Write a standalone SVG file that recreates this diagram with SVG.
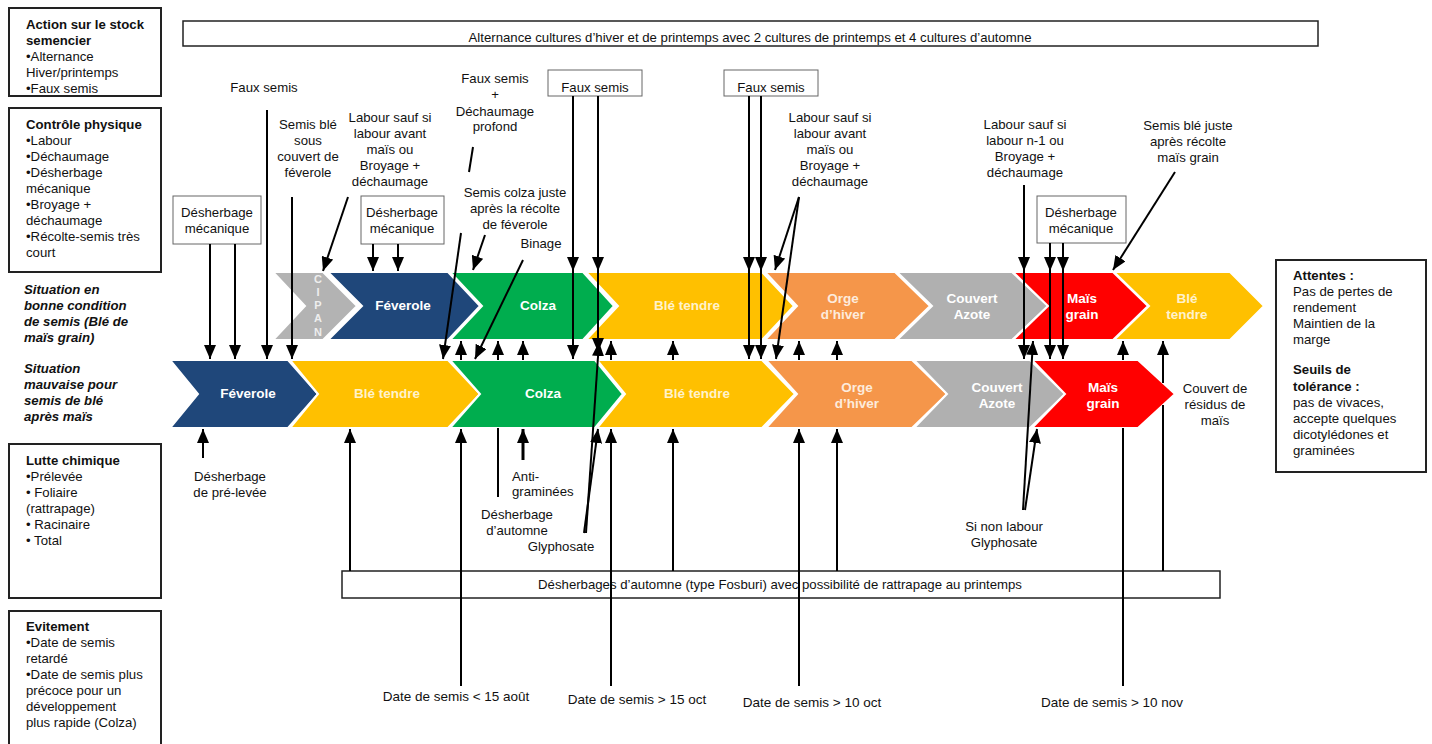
<svg xmlns="http://www.w3.org/2000/svg" width="1432" height="744" viewBox="0 0 1432 744">
<defs>
<marker id="ah" viewBox="0 0 14 12" refX="14" refY="6" markerWidth="14" markerHeight="12" markerUnits="userSpaceOnUse" orient="auto"><path d="M0,0 L14,6 L0,12 z" fill="#000"/></marker>
<style>
text{font-family:"Liberation Sans",Arial,sans-serif;font-size:13.2px;fill:#111}
.b{font-weight:bold}
.bi{font-weight:bold;font-style:italic}
.m{text-anchor:middle}
.sbox{fill:#fff;stroke:#222;stroke-width:2}
.lbox{fill:#fff;stroke:#666;stroke-width:1}
.chev{stroke:#fff;stroke-width:2}
.ct{font-weight:bold;font-size:13.5px;fill:#fff;text-anchor:middle}
.cy{fill:#FFF2CC}
.co{fill:#FDEBDC}
.ln{stroke:#000;stroke-width:2;fill:none}
.ar{stroke:#000;stroke-width:2;fill:none;marker-end:url(#ah)}
</style>
</defs>
<rect width="1432" height="744" fill="#fff"/>

<g id="box-stock">
<rect class="sbox" x="9" y="8" width="152" height="88"/>
<text x="26" y="29" class="b">Action sur le stock</text>
<text x="26" y="45" class="b">semencier</text>
<text x="26" y="61">•Alternance</text>
<text x="26" y="77">Hiver/printemps</text>
<text x="26" y="93">•Faux semis</text>
</g>
<g id="box-physique">
<rect class="sbox" x="9" y="108" width="152" height="164"/>
<text x="26" y="129" class="b">Contrôle physique</text>
<text x="26" y="145">•Labour</text>
<text x="26" y="161">•Déchaumage</text>
<text x="26" y="177">•Désherbage</text>
<text x="26" y="193">mécanique</text>
<text x="26" y="209">•Broyage +</text>
<text x="26" y="225">déchaumage</text>
<text x="26" y="241">•Récolte-semis très</text>
<text x="26" y="257">court</text>
</g>
<g id="label-bonne">
<text x="24" y="294" class="bi">Situation en</text>
<text x="24" y="310" class="bi">bonne condition</text>
<text x="24" y="326" class="bi">de semis (Blé de</text>
<text x="24" y="342" class="bi">maïs grain)</text>
</g>
<g id="label-mauvaise">
<text x="24" y="373" class="bi">Situation</text>
<text x="24" y="389" class="bi">mauvaise pour</text>
<text x="24" y="405" class="bi">semis de blé</text>
<text x="24" y="421" class="bi">après maïs</text>
</g>
<g id="box-chimique">
<rect class="sbox" x="9" y="444" width="152" height="154"/>
<text x="26" y="465" class="b">Lutte chimique</text>
<text x="26" y="481">•Prélevée</text>
<text x="26" y="497">• Foliaire</text>
<text x="26" y="513">(rattrapage)</text>
<text x="26" y="529">• Racinaire</text>
<text x="26" y="545">• Total</text>
</g>
<g id="box-evitement">
<rect class="sbox" x="9" y="611" width="152" height="140"/>
<text x="26" y="631" class="b">Evitement</text>
<text x="26" y="647">•Date de semis</text>
<text x="26" y="663">retardé</text>
<text x="26" y="679">•Date de semis plus</text>
<text x="26" y="695">précoce pour un</text>
<text x="26" y="711">développement</text>
<text x="26" y="727">plus rapide (Colza)</text>
</g>

<g id="box-alternance">
<rect x="183" y="21" width="1135" height="25" fill="#fff" stroke="#222" stroke-width="1.5"/>
<text x="750" y="42" class="m">Alternance cultures d’hiver et de printemps avec 2 cultures de printemps et 4 cultures d’automne</text>
</g>

<g id="box-attentes">
<rect class="sbox" x="1276" y="260" width="150" height="212"/>
<text x="1293" y="280" class="b">Attentes :</text>
<text x="1293" y="296">Pas de pertes de</text>
<text x="1293" y="312">rendement</text>
<text x="1293" y="328">Maintien de la</text>
<text x="1293" y="344">marge</text>
<text x="1293" y="374" class="b">Seuils de</text>
<text x="1293" y="391" class="b">tolérance :</text>
<text x="1293" y="407">pas de vivaces,</text>
<text x="1293" y="423">accepte quelques</text>
<text x="1293" y="439">dicotylédones et</text>
<text x="1293" y="455">graminées</text>
</g>

<!-- top row chevrons -->
<g id="t-cipan"><path class="chev" fill="#B3B3B3" d="M273,272 L323,272 L357,306 L323,340 L273,340 L305,306 z"/>
<text x="318" y="283" class="ct" style="font-size:11px;fill:#eee">C</text>
<text x="318" y="296" class="ct" style="font-size:11px;fill:#eee">I</text>
<text x="318" y="309" class="ct" style="font-size:11px;fill:#eee">P</text>
<text x="318" y="322" class="ct" style="font-size:11px;fill:#eee">A</text>
<text x="318" y="336" class="ct" style="font-size:11px;fill:#eee">N</text></g>
<g id="t-feverole"><path class="chev" fill="#1F477A" d="M328,272 L448,272 L480,306 L448,340 L328,340 L362,306 z"/><text x="403" y="310" class="ct">Féverole</text></g>
<g id="t-colza"><path class="chev" fill="#00AD4E" d="M450,272 L583,272 L614,306 L583,340 L450,340 L482,306 z"/><text x="538" y="310" class="ct">Colza</text></g>
<g id="t-ble1"><path class="chev" fill="#FFC000" d="M586,272 L762,272 L794,306 L762,340 L586,340 L618,306 z"/><text x="687" y="310" class="ct cy">Blé tendre</text></g>
<g id="t-orge"><path class="chev" fill="#F5964A" d="M765,272 L895,272 L930,306 L895,340 L765,340 L797,306 z"/><text x="843" y="303" class="ct co">Orge</text><text x="843" y="319" class="ct co">d’hiver</text></g>
<g id="t-couvert"><path class="chev" fill="#B0B0B0" d="M897,272 L1012,272 L1048,306 L1012,340 L897,340 L932,306 z"/><text x="972" y="303" class="ct">Couvert</text><text x="972" y="319" class="ct">Azote</text></g>
<g id="t-mais"><path class="chev" fill="#FF0000" d="M1013,272 L1113,272 L1148,306 L1113,340 L1013,340 L1048,306 z"/><text x="1082" y="303" class="ct">Maïs</text><text x="1082" y="319" class="ct">grain</text></g>
<g id="t-ble2"><path class="chev" fill="#FFC000" d="M1114,272 L1230,272 L1264,306 L1230,340 L1114,340 L1149,306 z"/><text x="1187" y="303" class="ct cy">Blé</text><text x="1187" y="319" class="ct cy">tendre</text></g>

<!-- bottom row chevrons -->
<g id="b-feverole"><path class="chev" fill="#1F477A" d="M170,360 L288,360 L318,394 L288,428 L170,428 L198,394 z"/><text x="248" y="398" class="ct">Féverole</text></g>
<g id="b-ble1"><path class="chev" fill="#FFC000" d="M290,360 L448,360 L480,394 L448,428 L290,428 L318,394 z"/><text x="387" y="398" class="ct cy">Blé tendre</text></g>
<g id="b-colza"><path class="chev" fill="#00AD4E" d="M450,360 L595,360 L623,394 L595,428 L450,428 L480,394 z"/><text x="543" y="398" class="ct">Colza</text></g>
<g id="b-ble2"><path class="chev" fill="#FFC000" d="M597,360 L762,360 L795,394 L762,428 L597,428 L625,394 z"/><text x="697" y="398" class="ct cy">Blé tendre</text></g>
<g id="b-orge"><path class="chev" fill="#F5964A" d="M766,360 L912,360 L947,394 L912,428 L766,428 L797,394 z"/><text x="857" y="392" class="ct co">Orge</text><text x="857" y="408" class="ct co">d’hiver</text></g>
<g id="b-couvert"><path class="chev" fill="#B0B0B0" d="M914,360 L1030,360 L1065,394 L1030,428 L914,428 L947,394 z"/><text x="997" y="392" class="ct">Couvert</text><text x="997" y="408" class="ct">Azote</text></g>
<g id="b-mais"><path class="chev" fill="#FF0000" d="M1032,360 L1138,360 L1175,394 L1138,428 L1032,428 L1065,394 z"/><text x="1103" y="392" class="ct">Maïs</text><text x="1103" y="408" class="ct">grain</text></g>

<g id="label-residus">
<text x="1215" y="393" class="m">Couvert de</text>
<text x="1215" y="409" class="m">résidus de</text>
<text x="1215" y="425" class="m">maïs</text>
</g>

<g id="box-desherbage1"><rect class="lbox" x="173" y="196" width="88" height="48"/><text x="217" y="217" class="m">Désherbage</text><text x="217" y="233" class="m">mécanique</text></g>
<g id="box-desherbage2"><rect class="lbox" x="361" y="196" width="83" height="48"/><text x="402" y="217" class="m">Désherbage</text><text x="402" y="233" class="m">mécanique</text></g>
<g id="box-desherbage3"><rect class="lbox" x="1037" y="196" width="89" height="47"/><text x="1081" y="217" class="m">Désherbage</text><text x="1081" y="233" class="m">mécanique</text></g>
<g id="box-faux1"><rect class="lbox" x="548" y="70" width="94" height="26"/><text x="595" y="92" class="m">Faux semis</text></g>
<g id="box-faux2"><rect class="lbox" x="724" y="70" width="94" height="26"/><text x="771" y="92" class="m">Faux semis</text></g>

<g id="labels-top">
<text x="264" y="92" class="m">Faux semis</text>
<text x="308" y="129" class="m">Semis blé</text>
<text x="308" y="145" class="m">sous</text>
<text x="308" y="161" class="m">couvert de</text>
<text x="308" y="177" class="m">féverole</text>
<text x="390" y="122" class="m">Labour sauf si</text>
<text x="390" y="138" class="m">labour avant</text>
<text x="390" y="154" class="m">maïs ou</text>
<text x="390" y="170" class="m">Broyage +</text>
<text x="390" y="186" class="m">déchaumage</text>
<text x="495" y="83" class="m">Faux semis</text>
<text x="495" y="99" class="m">+</text>
<text x="495" y="116" class="m">Déchaumage</text>
<text x="495" y="131" class="m">profond</text>
<text x="515" y="197" class="m">Semis colza juste</text>
<text x="515" y="213" class="m">après la récolte</text>
<text x="515" y="229" class="m">de féverole</text>
<text x="541" y="248" class="m">Binage</text>
<text x="830" y="122" class="m">Labour sauf si</text>
<text x="830" y="138" class="m">labour avant</text>
<text x="830" y="154" class="m">maïs ou</text>
<text x="830" y="170" class="m">Broyage +</text>
<text x="830" y="186" class="m">déchaumage</text>
<text x="1025" y="129" class="m">Labour sauf si</text>
<text x="1025" y="145" class="m">labour n-1 ou</text>
<text x="1025" y="161" class="m">Broyage +</text>
<text x="1025" y="177" class="m">déchaumage</text>
<text x="1188" y="130" class="m">Semis blé juste</text>
<text x="1188" y="146" class="m">après récolte</text>
<text x="1188" y="162" class="m">maïs grain</text>
</g>

<g id="labels-bottom">
<text x="230" y="481" class="m">Désherbage</text>
<text x="230" y="497" class="m">de pré-levée</text>
<text x="512" y="481">Anti-</text>
<text x="512" y="496">graminées</text>
<text x="517" y="519" class="m">Désherbage</text>
<text x="517" y="535" class="m">d’automne</text>
<text x="561" y="551" class="m">Glyphosate</text>
<text x="1004" y="531" class="m">Si non labour</text>
<text x="1004" y="547" class="m">Glyphosate</text>
<text x="456" y="701" class="m" style="font-size:13.5px">Date de semis &lt; 15 août</text>
<text x="637" y="704" class="m" style="font-size:13.5px">Date de semis &gt; 15 oct</text>
<text x="812" y="707" class="m" style="font-size:13.5px">Date de semis &gt; 10 oct</text>
<text x="1112" y="707" class="m" style="font-size:13.5px">Date de semis &gt; 10 nov</text>
</g>

<g id="box-fosburi">
<rect x="342" y="571" width="878" height="27" fill="#fff" stroke="#222" stroke-width="1.5"/>
<text x="780" y="589" class="m">Désherbages d’automne (type Fosburi) avec possibilité de rattrapage au printemps</text>
</g>

<g id="connectors">
<line class="ar" x1="210" y1="244" x2="210" y2="359"/>
<line class="ar" x1="235" y1="244" x2="235" y2="359"/>
<line class="ar" x1="267" y1="110" x2="267" y2="359"/>
<line class="ar" x1="292" y1="197" x2="292" y2="359"/>
<line class="ar" x1="348" y1="197" x2="323" y2="271"/>
<line class="ar" x1="373" y1="244" x2="373" y2="271"/>
<line class="ar" x1="398" y1="244" x2="398" y2="271"/>
<line class="ln" x1="473" y1="147" x2="469" y2="172"/>
<line class="ar" x1="461" y1="233" x2="443" y2="359"/>
<line class="ar" x1="485" y1="235" x2="473" y2="270"/>
<line class="ar" x1="523" y1="260" x2="475" y2="359"/>
<line class="ar" x1="573" y1="96" x2="573" y2="271"/>
<line class="ar" x1="573" y1="271" x2="573" y2="359"/>
<line class="ar" x1="598" y1="96" x2="598" y2="271"/>
<line class="ar" x1="598" y1="271" x2="598" y2="352"/>
<line class="ar" x1="749" y1="96" x2="749" y2="271"/>
<line class="ar" x1="749" y1="271" x2="749" y2="359"/>
<line class="ar" x1="761" y1="96" x2="761" y2="271"/>
<line class="ar" x1="761" y1="271" x2="761" y2="359"/>
<line class="ar" x1="799" y1="197" x2="775" y2="270"/>
<line class="ar" x1="799" y1="197" x2="776" y2="359"/>
<line class="ar" x1="1024" y1="185" x2="1024" y2="271"/>
<line class="ar" x1="1024" y1="271" x2="1024" y2="359"/>
<line class="ar" x1="1050" y1="243" x2="1050" y2="271"/>
<line class="ar" x1="1050" y1="271" x2="1050" y2="359"/>
<line class="ar" x1="1063" y1="243" x2="1063" y2="271"/>
<line class="ar" x1="1063" y1="271" x2="1063" y2="359"/>
<line class="ar" x1="1175" y1="172" x2="1113" y2="270"/>
<line class="ar" x1="203" y1="458" x2="203" y2="429"/>
<line class="ar" x1="350" y1="571" x2="350" y2="429"/>
<line class="ar" x1="461" y1="686" x2="461" y2="429"/>
<line class="ar" x1="461" y1="360" x2="461" y2="341"/>
<line class="ln" x1="498" y1="497" x2="498" y2="428"/>
<line class="ar" x1="498" y1="360" x2="498" y2="341"/>
<line class="ar" x1="523" y1="460" x2="523" y2="429" style="stroke-width:3"/>
<line class="ar" x1="523" y1="360" x2="523" y2="341"/>
<line class="ar" x1="586" y1="533" x2="599" y2="342"/>
<line class="ar" x1="584" y1="533" x2="598" y2="429"/>
<line class="ar" x1="611" y1="686" x2="611" y2="429"/>
<line class="ar" x1="611" y1="360" x2="611" y2="341"/>
<line class="ar" x1="673" y1="571" x2="673" y2="429"/>
<line class="ar" x1="673" y1="360" x2="673" y2="341"/>
<line class="ar" x1="799" y1="686" x2="799" y2="429"/>
<line class="ar" x1="799" y1="360" x2="799" y2="341"/>
<line class="ar" x1="837" y1="571" x2="837" y2="429"/>
<line class="ar" x1="837" y1="360" x2="837" y2="341"/>
<line class="ar" x1="1025" y1="510" x2="1037" y2="429"/>
<line class="ar" x1="1023" y1="510" x2="1033" y2="341"/>
<line class="ln" x1="1123" y1="686" x2="1123" y2="428"/>
<line class="ar" x1="1123" y1="360" x2="1123" y2="341"/>
<line class="ln" x1="1163" y1="571" x2="1163" y2="405"/>
<line class="ar" x1="1163" y1="383" x2="1163" y2="341"/>
</g>
</svg>
